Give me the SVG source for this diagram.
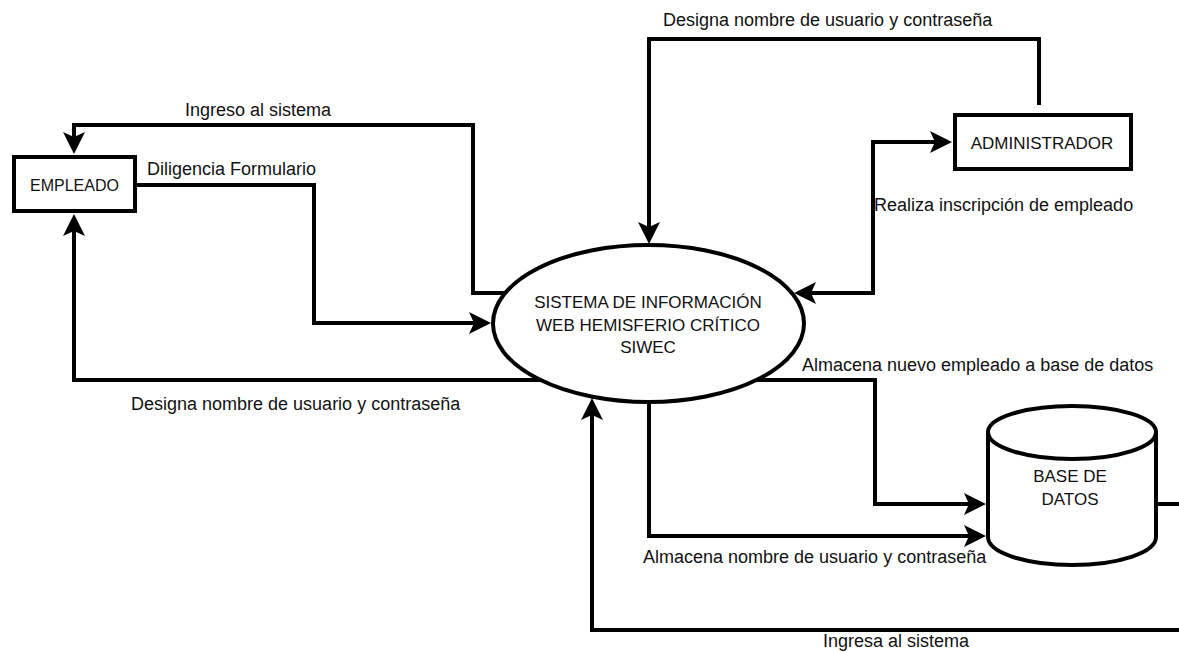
<svg xmlns="http://www.w3.org/2000/svg" width="1179" height="652" viewBox="0 0 1179 652">
  <defs>
    <style>
      .shape { fill: #ffffff; stroke: #000000; stroke-width: 4; }
      .conn { fill: none; stroke: #000000; stroke-width: 4; stroke-linejoin: miter; }
      .arr { marker-end: url(#head); }
      .both { marker-start: url(#head); marker-end: url(#head); }
      .lbl { font-family: "Liberation Sans", Arial, sans-serif; font-size: 18px; fill: #111111; }
      .ntxt { font-family: "Liberation Sans", Arial, sans-serif; font-size: 17px; fill: #111111; text-anchor: middle; }
    </style>
    <marker id="head" markerUnits="userSpaceOnUse" viewBox="0 0 22 22" markerWidth="22" markerHeight="22" refX="14" refY="11" orient="auto-start-reverse">
      <path d="M0,0 L22,11 L0,22 L5,11 Z" fill="#000000"/>
    </marker>
  </defs>
  <rect width="1179" height="652" fill="#ffffff"/>

  <g id="connectors">
    <!-- Ingreso al sistema: ellipse -> EMPLEADO -->
    <path class="conn arr" d="M507,293 L473,293 L473,125 L74,125 L74,146"/>
    <!-- Diligencia Formulario: EMPLEADO -> ellipse -->
    <path class="conn arr" d="M137,185 L314,185 L314,323 L483,323"/>
    <!-- Designa (left): ellipse -> EMPLEADO -->
    <path class="conn arr" d="M541,380 L74,380 L74,222"/>
    <!-- Designa (top): ADMINISTRADOR -> ellipse -->
    <path class="conn arr" d="M1039,105 L1039,39 L649,39 L649,236"/>
    <!-- Realiza inscripcion: bidirectional -->
    <path class="conn both" d="M802,293 L873,293 L873,142 L944,142"/>
    <!-- Almacena nuevo empleado -->
    <path class="conn arr" d="M755,380 L875,380 L875,504 L978,504"/>
    <!-- Almacena nombre de usuario -->
    <path class="conn arr" d="M649,401 L649,536 L978,536"/>
    <!-- Ingresa al sistema: base de datos -> ellipse -->
    <path class="conn arr" d="M1156,504 L1200,504 L1200,630 L592,630 L592,406"/>
  </g>

  <g id="empleado">
    <rect class="shape" x="14" y="157" width="121" height="54"/>
    <text class="ntxt" x="74.5" y="191" style="font-size:16px">EMPLEADO</text>
  </g>

  <g id="administrador">
    <rect class="shape" x="955" y="115" width="176" height="54"/>
    <text class="ntxt" x="1042" y="149">ADMINISTRADOR</text>
  </g>

  <g id="sistema">
    <ellipse class="shape" cx="648.5" cy="323.5" rx="155.5" ry="78.5"/>
    <text class="ntxt" x="648" y="308">SISTEMA DE INFORMACIÓN</text>
    <text class="ntxt" x="648" y="331">WEB HEMISFERIO CRÍTICO</text>
    <text class="ntxt" x="648" y="353">SIWEC</text>
  </g>

  <g id="base-de-datos">
    <path class="shape" d="M988,432 A84,26 0 0 1 1156,432 L1156,537 A84,28 0 0 1 988,537 Z"/>
    <path class="conn" d="M988,432 A84,27 0 0 0 1156,432"/>
    <text class="ntxt" x="1070" y="482">BASE DE</text>
    <text class="ntxt" x="1070" y="505">DATOS</text>
  </g>

  <g id="labels">
    <text class="lbl" x="185" y="116">Ingreso al sistema</text>
    <text class="lbl" x="147" y="175">Diligencia Formulario</text>
    <text class="lbl" x="663" y="26">Designa nombre de usuario y contraseña</text>
    <text class="lbl" x="874" y="211">Realiza inscripción de empleado</text>
    <text class="lbl" x="802" y="371">Almacena nuevo empleado a base de datos</text>
    <text class="lbl" x="131" y="410">Designa nombre de usuario y contraseña</text>
    <text class="lbl" x="643" y="563">Almacena nombre de usuario y contraseña</text>
    <text class="lbl" x="823" y="647">Ingresa al sistema</text>
  </g>
</svg>
